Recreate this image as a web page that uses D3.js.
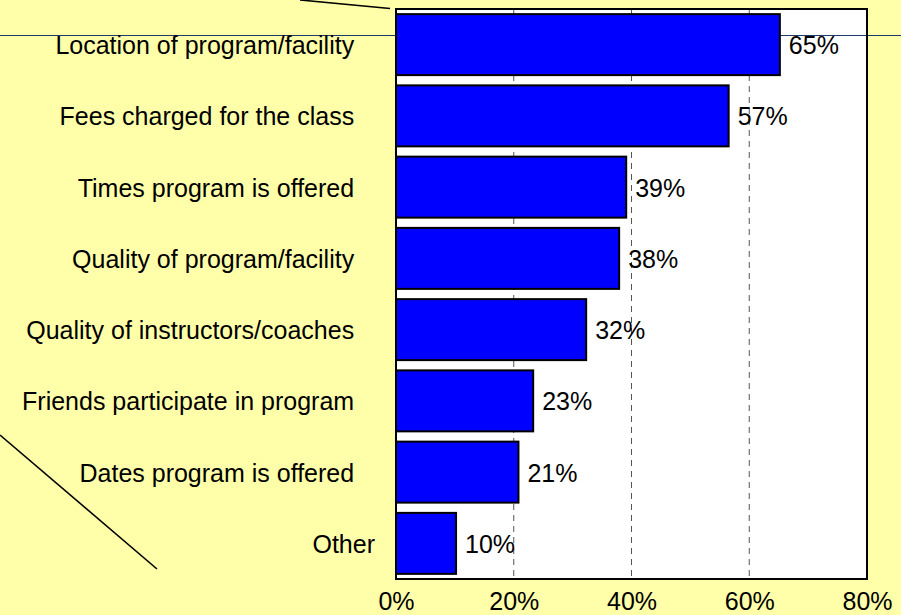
<!DOCTYPE html>
<html>
<head>
<meta charset="utf-8">
<script src="https://cdn.jsdelivr.net/npm/d3@7"></script>
<style>
  html, body { margin: 0; padding: 0; background: #FFFFAA; }
  svg { display: block; font-family: "Liberation Sans", Arial, sans-serif; }
</style>
</head>
<body>
<svg id="chart" width="901" height="615"></svg>
<script>
// ---- data ----
const categories = [
  "Location of program/facility\u00a0\u00a0\u00a0",
  "Fees charged for the class\u00a0\u00a0\u00a0",
  "Times program is offered\u00a0\u00a0\u00a0",
  "Quality of program/facility\u00a0\u00a0\u00a0",
  "Quality of instructors/coaches\u00a0\u00a0\u00a0",
  "Friends participate in program\u00a0\u00a0\u00a0",
  "Dates program is offered\u00a0\u00a0\u00a0",
  "Other"
];
const values = [65.2, 56.5, 39.1, 37.9, 32.3, 23.3, 20.8, 10.2];
const valueLabels = ["65%", "57%", "39%", "38%", "32%", "23%", "21%", "10%"];
const xTicks = [0, 20, 40, 60, 80];
const xTickLabels = ["0%", "20%", "40%", "60%", "80%"];

// ---- layout ----
const W = 901, H = 615;
const plot = { left: 396, right: 867, top: 9, bottom: 579 };
const fontSize = 25;

const svg = d3.select("#chart");

svg.append("rect").attr("width", W).attr("height", H).attr("fill", "#FFFFAA");

const x = d3.scaleLinear().domain([0, 80]).range([plot.left, plot.right]);
const y = d3.scaleBand().domain(d3.range(categories.length))
  .range([plot.top, plot.bottom]).paddingInner(0.144).paddingOuter(0.072);

// decorative horizontal line across the slide
svg.append("line")
  .attr("x1", 0).attr("x2", W).attr("y1", 35.5).attr("y2", 35.5)
  .attr("stroke", "#1f3a68").attr("stroke-width", 1);

// plot background
svg.append("rect")
  .attr("x", plot.left).attr("y", plot.top)
  .attr("width", plot.right - plot.left).attr("height", plot.bottom - plot.top)
  .attr("fill", "#ffffff");

// horizontal line visible inside the white plot area too
svg.append("line")
  .attr("x1", plot.left).attr("x2", plot.right).attr("y1", 35.5).attr("y2", 35.5)
  .attr("stroke", "#1f3a68").attr("stroke-width", 1);

// dashed gridlines
svg.append("g").selectAll("line")
  .data(xTicks.filter(t => t > 0 && t < 80))
  .join("line")
  .attr("x1", d => x(d)).attr("x2", d => x(d))
  .attr("y1", plot.top).attr("y2", plot.bottom)
  .attr("stroke", "#555").attr("stroke-width", 1)
  .attr("stroke-dasharray", "6,5");

// bars
svg.append("g").selectAll("rect")
  .data(values)
  .join("rect")
  .attr("x", x(0))
  .attr("y", (d, i) => y(i))
  .attr("width", d => x(d) - x(0))
  .attr("height", y.bandwidth())
  .attr("fill", "#0000FF")
  .attr("stroke", "#000")
  .attr("stroke-width", 2);

// value labels
svg.append("g").selectAll("text")
  .data(values)
  .join("text")
  .attr("x", d => x(d) + 9)
  .attr("y", (d, i) => y(i) + y.bandwidth() / 2)
  .attr("dy", "0.38em")
  .attr("font-size", fontSize)
  .attr("fill", "#000")
  .text((d, i) => valueLabels[i]);

// plot frame
svg.append("rect")
  .attr("x", plot.left).attr("y", plot.top)
  .attr("width", plot.right - plot.left).attr("height", plot.bottom - plot.top)
  .attr("fill", "none").attr("stroke", "#000").attr("stroke-width", 2);

// category axis (left)
const yAxis = d3.axisLeft(y).tickSize(0).tickPadding(21)
  .tickFormat(i => categories[i]);
const gy = svg.append("g").attr("transform", `translate(${plot.left},0)`).call(yAxis);
gy.select(".domain").remove();
gy.selectAll("text")
  .attr("font-size", fontSize)
  .attr("font-family", "Liberation Sans, Arial, sans-serif")
  .attr("fill", "#000")
  .attr("dy", "0.38em")
  .style("white-space", "pre");

// x axis (bottom)
const xAxis = d3.axisBottom(x).tickValues(xTicks).tickSize(0).tickPadding(0)
  .tickFormat((d, i) => xTickLabels[i]);
const gx = svg.append("g").attr("transform", `translate(0,${plot.bottom})`).call(xAxis);
gx.select(".domain").remove();
gx.selectAll("text")
  .attr("font-size", fontSize)
  .attr("font-family", "Liberation Sans, Arial, sans-serif")
  .attr("fill", "#000")
  .attr("y", 31)
  .attr("dy", 0);

// decorative diagonal lines
svg.append("line")
  .attr("x1", 300).attr("y1", 0).attr("x2", 390).attr("y2", 8.5)
  .attr("stroke", "#000").attr("stroke-width", 1.6);
svg.append("line")
  .attr("x1", 0).attr("y1", 435).attr("x2", 157).attr("y2", 569)
  .attr("stroke", "#000").attr("stroke-width", 1.6);
</script>
</body>
</html>
